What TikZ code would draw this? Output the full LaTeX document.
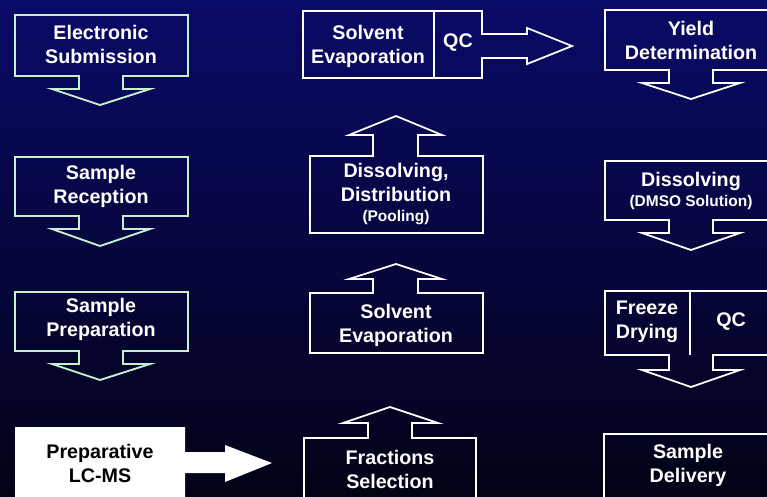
\documentclass[tikz,border=0pt]{standalone}
\usepackage{fontspec}
\setmainfont{Liberation Sans}
\definecolor{bgtop}{RGB}{10,10,104}
\definecolor{bgbot}{RGB}{2,2,22}
\definecolor{mint}{RGB}{200,240,205}
\tikzset{
  greenshape/.style={draw=mint, line width=1.6pt, line join=miter},
  whiteshape/.style={draw=white, line width=1.5pt, line join=miter},
  label/.style={text=white, align=center, inner sep=0pt,
    font=\bfseries\fontsize{16.8}{20.5}\selectfont},
  small/.style={font=\bfseries\fontsize{13.2}{16}\selectfont}
}
\begin{document}
\begin{tikzpicture}[x=0.03cm, y=-0.03cm]
  \useasboundingbox (0,0) rectangle (767,496);
  \clip (0,0) rectangle (767,496);
  \shade[top color=bgtop, bottom color=bgbot] (0,0) rectangle (767,496);

  % ---- left column: boxes with downward callout arrows ----
  \draw[greenshape] (15,15) -- (188,15) -- (188,76) -- (123,76) -- (123,89) -- (150,89)
     -- (100,105) -- (52,89) -- (79,89) -- (79,76) -- (15,76) -- cycle;
  \node[label] (esub) at (101,44) {Electronic\\Submission};

  \draw[greenshape] (15,157) -- (188,157) -- (188,216) -- (123,216) -- (123,229) -- (150,229)
     -- (100,246) -- (52,229) -- (79,229) -- (79,216) -- (15,216) -- cycle;
  \node[label] (srec) at (101,186) {Sample\\Reception};

  \draw[greenshape] (15,292) -- (188,292) -- (188,351) -- (123,351) -- (123,364) -- (150,364)
     -- (100,380) -- (52,364) -- (79,364) -- (79,351) -- (15,351) -- cycle;
  \node[label] (sprep) at (101,319) {Sample\\Preparation};

  % preparative LC-MS: solid white box with right arrow
  \fill[white] (15,427) -- (185,427) -- (185,452) -- (225,452) -- (225,445) -- (272,463)
     -- (225,482) -- (225,473) -- (185,473) -- (185,505) -- (15,505) -- cycle;
  \node[label, text=black] (lcms) at (100,463) {Preparative\\LC-MS};

  % ---- middle column: boxes with upward callout arrows ----
  \draw[whiteshape] (304,505) -- (304,438) -- (368,438) -- (368,423) -- (343,423) -- (390,407)
     -- (438,423) -- (412,423) -- (412,438) -- (476,438) -- (476,505);
  \node[label] (fsel) at (390,469) {Fractions\\Selection};

  \draw[whiteshape] (310,353) -- (310,293) -- (373,293) -- (373,279) -- (349,279) -- (396,264)
     -- (442,279) -- (418,279) -- (418,293) -- (483,293) -- (483,353) -- cycle;
  \node[label] (sevap) at (396,325) {Solvent\\Evaporation};

  \draw[whiteshape] (310,233) -- (310,156) -- (373,156) -- (373,135) -- (349,135) -- (396,116)
     -- (442,135) -- (418,135) -- (418,156) -- (483,156) -- (483,233) -- cycle;
  \node[label] (diss) at (396,194) {Dissolving,\\Distribution\\[-3pt]{\small\bfseries\fontsize{13.2}{16}\selectfont(Pooling)}};

  % top: evaporation + QC with right arrow
  \draw[whiteshape] (303,11) -- (482,11) -- (482,34) -- (527,34) -- (527,28) -- (572,46)
     -- (527,64) -- (527,58) -- (482,58) -- (482,78) -- (303,78) -- cycle;
  \draw[whiteshape] (434,11) -- (434,78);
  \node[label] (tevap) at (368,46) {Solvent\\Evaporation};
  \node[label] (tqc) at (458,43) {QC};

  % ---- right column: boxes with downward callout arrows ----
  \draw[whiteshape] (777,10) -- (605,10) -- (605,70) -- (669,70) -- (669,83) -- (642,83)
     -- (691,99) -- (740,83) -- (713,83) -- (713,70) -- (777,70);
  \node[label] (yield) at (691,40) {Yield\\Determination};

  \draw[whiteshape] (777,161) -- (605,161) -- (605,220) -- (669,220) -- (669,233) -- (642,233)
     -- (691,250) -- (740,233) -- (713,233) -- (713,220) -- (777,220);
  \node[label] (dmso) at (691,191) {Dissolving\\[-3pt]{\bfseries\fontsize{13.2}{16}\selectfont(DMSO Solution)}};

  \draw[whiteshape] (777,291) -- (605,291) -- (605,355) -- (669,355) -- (669,370) -- (642,370)
     -- (691,387) -- (740,370) -- (713,370) -- (713,355) -- (777,355);
  \draw[whiteshape] (690,291) -- (690,355);
  \node[label] (freeze) at (647,322) {Freeze\\Drying};
  \node[label] (rqc) at (731,322) {QC};

  \draw[whiteshape] (777,434) -- (604,434) -- (604,505);
  \node[label] (deliv) at (688,465) {Sample\\Delivery};
\end{tikzpicture}
\end{document}
